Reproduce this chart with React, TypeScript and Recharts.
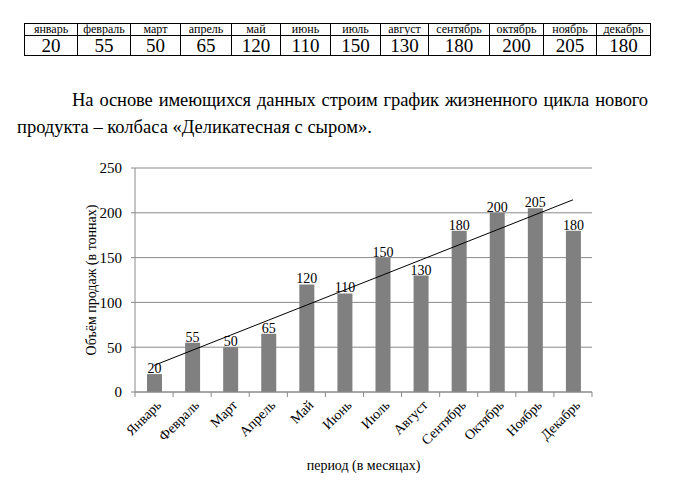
import React from "react";
import { ComposedChart, Bar, Line, XAxis, YAxis, CartesianGrid, LabelList } from "recharts";

// table header labels (lower case) and chart axis labels
const tableMonths = ["январь", "февраль", "март", "апрель", "май", "июнь", "июль", "август", "сентябрь", "октябрь", "ноябрь", "декабрь"];
const months = ["Январь", "Февраль", "Март", "Апрель", "Май", "Июнь", "Июль", "Август", "Сентябрь", "Октябрь", "Ноябрь", "Декабрь"];
const sales = [20, 55, 50, 65, 120, 110, 150, 130, 180, 200, 205, 180];
const yTicks = [0, 50, 100, 150, 200, 250];

const colWidths = [53, 53, 50, 51, 49, 50, 50, 48, 61, 54, 53, 54];

const FONT = "Liberation Serif, Tinos, Times New Roman, Times, DejaVu Serif, serif";
const GRID = "#8a8a8a";
const BAR = "#808080";

const CHART_W = 679;
const CHART_H = 341;
const MARGIN = { top: 18, right: 87, left: 0, bottom: 0 };
const Y_W = 135;
const BAND = (CHART_W - MARGIN.left - MARGIN.right - Y_W) / months.length;

// linear least-squares trend, like Excel's linear trendline
function linearTrend(values: number[]) {
  const n = values.length;
  const xs = values.map((_, i) => i + 1);
  const mx = xs.reduce((a, b) => a + b, 0) / n;
  const my = values.reduce((a, b) => a + b, 0) / n;
  let sxy = 0;
  let sxx = 0;
  xs.forEach((x, i) => {
    sxy += (x - mx) * (values[i] - my);
    sxx += (x - mx) * (x - mx);
  });
  const k = sxy / sxx;
  const b = my - k * mx;
  return xs.map((x) => k * x + b);
}

const trend = linearTrend(sales);
const data = months.map((m, i) => ({ month: m, sales: sales[i], trend: trend[i] }));

const XTick = ({ x, y, payload, index }: any) => (
  <g transform={`translate(${x},${y})`}>
    <line x1={-BAND / 2} y1={0} x2={-BAND / 2} y2={5} stroke={GRID} />
    {index === months.length - 1 && <line x1={BAND / 2} y1={0} x2={BAND / 2} y2={5} stroke={GRID} />}
    <g transform="translate(8,14) rotate(-45)">
      <text x={0} y={0} textAnchor="end" fontSize={14} fill="#000" style={{ fontFamily: FONT }}>
        {payload.value}
      </text>
    </g>
  </g>
);

const cell: React.CSSProperties = {
  border: "1px solid #000",
  padding: 0,
  textAlign: "center",
};

export default function App() {
  return (
    <div style={{ position: "absolute", left: 0, top: 0, width: 679, height: 491, background: "#fff", fontFamily: FONT, color: "#000" }}>
      <table
        style={{
          position: "absolute",
          left: 24,
          top: 23,
          borderCollapse: "collapse",
          tableLayout: "fixed",
          width: colWidths.reduce((a, b) => a + b, 0),
          fontFamily: FONT,
        }}
      >
        <colgroup>
          {colWidths.map((w, i) => (
            <col key={i} style={{ width: w }} />
          ))}
        </colgroup>
        <tbody>
          <tr style={{ height: 12 }}>
            {tableMonths.map((m) => (
              <td key={m} style={{ ...cell, fontSize: 12, lineHeight: "11px" }}>{m}</td>
            ))}
          </tr>
          <tr style={{ height: 20 }}>
            {sales.map((v, i) => (
              <td key={i} style={{ ...cell, fontSize: 19, lineHeight: "19px" }}>{v}</td>
            ))}
          </tr>
        </tbody>
      </table>

      <div style={{ position: "absolute", left: 17, top: 87, width: 631, fontSize: 18.5, lineHeight: "27px" }}>
        <div style={{ textIndent: 55, textAlign: "justify", textAlignLast: "justify", whiteSpace: "nowrap", letterSpacing: -0.1 }}>
          На основе имеющихся данных строим график жизненного цикла нового
        </div>
        <div>продукта – колбаса «Деликатесная с сыром».</div>
      </div>

      <div style={{ position: "absolute", left: 0, top: 150, fontFamily: FONT }}>
        <ComposedChart width={CHART_W} height={CHART_H} data={data} margin={MARGIN} style={{ fontFamily: FONT }}>
          <CartesianGrid vertical={false} stroke={GRID} />
          <XAxis
            dataKey="month"
            height={99}
            stroke={GRID}
            tickLine={false}
            tickSize={0}
            tickMargin={0}
            interval={0}
            tick={<XTick />}
            label={{ value: "период (в месяцах)", position: "insideBottom", offset: 21, fontSize: 14, fill: "#000", style: { fontFamily: FONT } }}
          />
          <YAxis
            width={Y_W}
            domain={[0, 250]}
            ticks={yTicks}
            stroke={GRID}
            tickSize={4}
            tickMargin={9}
            tick={{ fontSize: 15, fill: "#000", style: { fontFamily: FONT } }}
            label={{ value: "Объём продаж (в тоннах)", angle: -90, position: "center", dx: 24, fontSize: 14, fill: "#000", style: { fontFamily: FONT } }}
          />
          <Bar dataKey="sales" fill={BAR} barSize={15} isAnimationActive={false}>
            <LabelList dataKey="sales" position="top" offset={1} fontSize={14} fill="#000" style={{ fontFamily: FONT }} />
          </Bar>
          <Line dataKey="trend" type="linear" stroke="#000" strokeWidth={1} dot={false} activeDot={false} isAnimationActive={false} />
        </ComposedChart>
      </div>
    </div>
  );
}
